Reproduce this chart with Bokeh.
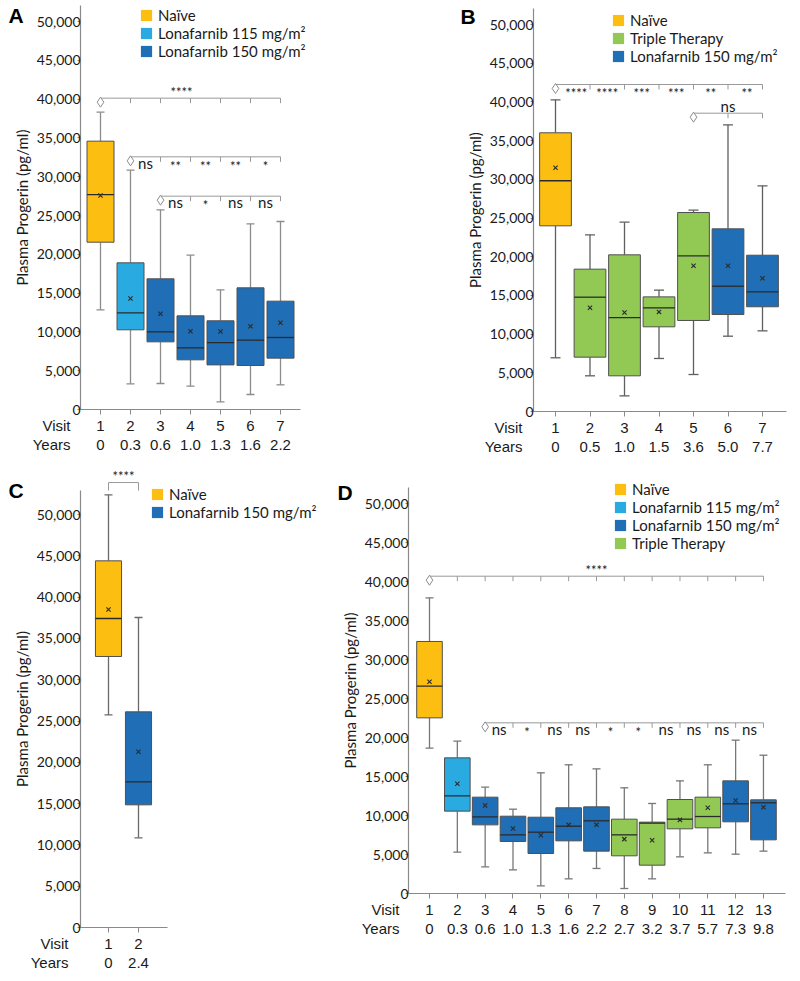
from bokeh.plotting import figure
from bokeh.models import (ColumnDataSource, CDSView, GroupFilter, FixedTicker, NumeralTickFormatter,
                          LinearAxis, Label, Legend, LegendItem, Range1d)
from bokeh.layouts import column, row
from bokeh.embed import file_html
from bokeh.resources import INLINE
from bokeh.core.properties import value

NAIVE = "Naïve"
L115 = "Lonafarnib 115 mg/m²"
L150 = "Lonafarnib 150 mg/m²"
TRIPLE = "Triple Therapy"
COLORS = {NAIVE: "#FDBE12", L115: "#29ABE2", L150: "#1F6EB6", TRIPLE: "#92C954"}

Y_TICKS = [0, 5000, 10000, 15000, 20000, 25000, 30000, 35000, 40000, 45000, 50000]

# ---------------- Panel A ----------------
A_visits = [1, 2, 3, 4, 5, 6, 7]
A_years = ["0", "0.3", "0.6", "1.0", "1.3", "1.6", "2.2"]
A_groups = [NAIVE, L115, L150, L150, L150, L150, L150]
A_whisker_low = [12850, 3310, 3350, 3010, 990, 1930, 3180]
A_q1 = [21560, 10270, 8720, 6400, 5750, 5670, 6620]
A_median = [27700, 12460, 10010, 7950, 8630, 8930, 9280]
A_q3 = [34580, 18900, 16840, 12070, 11430, 15680, 13960]
A_whisker_high = [38310, 30840, 25730, 19890, 15420, 23930, 24230]
A_mean = [27580, 14300, 12330, 10090, 10050, 10740, 11170]
A_bracket_start = [1, 2, 3]
A_bracket_end = [7, 7, 7]
A_bracket_y = [40120, 32560, 27490]
A_sig_text = ["****", "ns", "**", "**", "**", "*", "ns", "*", "ns", "ns"]
A_sig_x = [3.7, 2.5, 3.5, 4.5, 5.5, 6.5, 3.5, 4.5, 5.5, 6.5]
A_sig_bracket = [0, 1, 1, 1, 1, 1, 2, 2, 2, 2]
A_sig_above = [True, False, False, False, False, False, False, False, False, False]
A_legend = [NAIVE, L115, L150]

# ---------------- Panel B ----------------
B_visits = [1, 2, 3, 4, 5, 6, 7]
B_years = ["0", "0.5", "1.0", "1.5", "3.6", "5.0", "7.7"]
B_groups = [NAIVE, TRIPLE, TRIPLE, TRIPLE, TRIPLE, L150, L150]
B_whisker_low = [6940, 4610, 2020, 6850, 4780, 9730, 10420]
B_q1 = [23990, 7020, 4610, 10940, 11760, 12530, 13530]
B_median = [29810, 14770, 12140, 13390, 20110, 16190, 15460]
B_q3 = [36010, 18390, 20240, 14810, 25710, 23600, 20190]
B_whisker_high = [40270, 22830, 24460, 15680, 26010, 37040, 29160]
B_mean = [31480, 13400, 12790, 12870, 18820, 18820, 17220]
B_bracket_start = [1, 5]
B_bracket_end = [7, 7]
B_bracket_y = [42250, 38540]
B_sig_text = ["****", "****", "***", "***", "**", "**", "ns"]
B_sig_x = [1.6, 2.5, 3.5, 4.5, 5.5, 6.55, 6.0]
B_sig_bracket = [0, 0, 0, 0, 0, 0, 1]
B_sig_above = [False, False, False, False, False, False, True]
B_legend = [NAIVE, TRIPLE, L150]

# ---------------- Panel C ----------------
C_visits = [1, 2]
C_years = ["0", "2.4"]
C_groups = [NAIVE, L150]
C_whisker_low = [25740, 10860]
C_q1 = [32810, 14850]
C_median = [37410, 17640]
C_q3 = [44390, 26110]
C_whisker_high = [52380, 37530]
C_mean = [38500, 21270]
C_bracket_start = [1]
C_bracket_end = [2]
C_bracket_y = [53870]
C_sig_text = ["****"]
C_sig_x = [1.5]
C_sig_bracket = [0]
C_sig_above = [True]
C_legend = [NAIVE, L150]

# ---------------- Panel D ----------------
D_visits = [1, 2, 3, 4, 5, 6, 7, 8, 9, 10, 11, 12, 13]
D_years = ["0", "0.3", "0.6", "1.0", "1.3", "1.6", "2.2", "2.7", "3.2", "3.7", "5.7", "7.3", "9.8"]
D_groups = [NAIVE, L115, L150, L150, L150, L150, L150, TRIPLE, TRIPLE, TRIPLE, TRIPLE, L150, L150]
D_whisker_low = [18630, 5300, 3420, 3030, 980, 1880, 3210, 640, 1880, 4700, 5210, 5040, 5430]
D_q1 = [22520, 10560, 8800, 6670, 5130, 6750, 5430, 4830, 3630, 8290, 8420, 9190, 6880]
D_median = [26580, 12520, 9830, 7520, 7860, 8630, 9320, 7520, 9020, 9530, 9870, 11500, 11630]
D_q3 = [32310, 17390, 12350, 9910, 9780, 10990, 11110, 9530, 9150, 12050, 12350, 14440, 12010]
D_whisker_high = [37910, 19530, 13630, 10810, 15470, 16500, 15980, 13550, 11540, 14440, 16500, 19660, 17730]
D_mean = [27140, 14060, 11280, 8330, 7480, 8800, 8800, 6970, 6840, 9440, 10990, 11920, 11070]
D_bracket_start = [1, 3]
D_bracket_end = [13, 13]
D_bracket_y = [40680, 21880]
D_sig_text = ["****", "ns", "*", "ns", "ns", "*", "*", "ns", "ns", "ns", "ns"]
D_sig_x = [7.0, 3.5, 4.5, 5.5, 6.5, 7.5, 8.5, 9.5, 10.5, 11.5, 12.5]
D_sig_bracket = [0, 1, 1, 1, 1, 1, 1, 1, 1, 1, 1]
D_sig_above = [True, False, False, False, False, False, False, False, False, False, False]
D_legend = [NAIVE, L115, L150, TRIPLE]

# ---------------- styles / geometry (pixels inside each figure) ----------------
AXIS_COLOR = "#8a8a8a"
BOX_LINE = "#505050"
MEDIAN_COLOR = "#2b2b2b"
BRACKET_COLOR = "#999999"
TEXT_COLOR = "#1a1a1a"
TICK_FONT = "Lato"
X_FONT = "Liberation Sans"
ROW1_VISIT_OFF, ROW2_YEARS_OFF = 11, 30   # px below the x axis to top of label rows
CAPTION_SHIFT = 4                          # row captions lifted to line up with tick labels
SIG_OFFSETS = {("above", True): -6.5, ("above", False): -7, ("below", True): 9, ("below", False): 6}

# v1: x pixel of visit 1, zero: y pixel (from top) of value 0, ax: x pixel of the y axis,
# xend: x pixel where x axis ends, ytop: y pixel where y axis ends
GEO = {
    "A": dict(w=400, h=460, ppx=30.0, ppy=7.76, v1=100, zero=409, ax=80, xend=300, ytop=5,
              box_w=0.9, cap_px=4, letter=(8, 15), capx=70, legend=(139, 8), drop_both=False,
              whisker="#8c8c8c"),
    "B": dict(w=392, h=460, ppx=34.5, ppy=7.74, v1=155, zero=411, ax=133, xend=386, ytop=8,
              box_w=0.92, cap_px=5, letter=(60, 16), capx=122, legend=(211, 13), drop_both=False,
              whisker="#5f5f5f"),
    "C": dict(w=318, h=513, ppx=30.0, ppy=8.26, v1=108, zero=467, ax=80, xend=167, ytop=30,
              box_w=0.87, cap_px=4, letter=(8, 30), capx=68, legend=(150, 26), drop_both=True,
              whisker="#6a6a6a"),
    "D": dict(w=474, h=513, ppx=27.83, ppy=7.8, v1=111, zero=433, ax=90, xend=467, ytop=27,
              box_w=0.92, cap_px=4, letter=(19, 32), capx=81, legend=(295, 23), drop_both=False,
              whisker="#777777"),
}
LEG_ROW = 18
LEG_SPACING = -1


def build(letter, visits, years, groups, wlo, q1, med, q3, whi, mean,
          b_start, b_end, b_y, s_text, s_x, s_br, s_above, legend_groups):
    g = GEO[letter]
    ppx, ppy = g["ppx"], g["ppy"]
    x0 = 1 - g["v1"] / ppx
    x1 = x0 + g["w"] / ppx
    y1 = g["zero"] / ppy * 1000.0
    y0 = -(g["h"] - g["zero"]) / ppy * 1000.0
    yaxis_x = 1 + (g["ax"] - g["v1"]) / ppx
    xaxis_end = 1 + (g["xend"] - g["v1"]) / ppx
    yaxis_top = (g["zero"] - g["ytop"]) / ppy * 1000.0
    dx = 1.0 / ppx
    dy = 1000.0 / ppy
    wc = g["whisker"]

    p = figure(width=g["w"], height=g["h"], x_range=Range1d(x0, x1), y_range=Range1d(y0, y1),
               output_backend="svg", toolbar_location=None,
               x_axis_location=None, y_axis_location=None,
               min_border_left=0, min_border_right=0, min_border_top=0, min_border_bottom=0)
    p.outline_line_color = None
    p.xgrid.grid_line_color = None
    p.ygrid.grid_line_color = None

    # y axis, drawn at a fixed location
    ya = LinearAxis(ticker=FixedTicker(ticks=Y_TICKS), formatter=NumeralTickFormatter(format="0,0"),
                    axis_label="Plasma Progerin (pg/ml)", fixed_location=yaxis_x,
                    bounds=(0, yaxis_top))
    ya.axis_line_color = AXIS_COLOR
    ya.axis_line_width = 1.2
    ya.major_tick_line_color = AXIS_COLOR
    ya.major_tick_out = 3
    ya.major_tick_in = 0
    ya.minor_tick_out = 0
    ya.minor_tick_line_color = None
    ya.major_label_text_font = TICK_FONT
    ya.major_label_text_font_size = "14px"
    ya.major_label_text_color = TEXT_COLOR
    ya.major_label_standoff = -3
    ya.axis_label_text_font = TICK_FONT
    ya.axis_label_text_font_style = "normal"
    ya.axis_label_text_font_size = "15px"
    ya.axis_label_text_color = TEXT_COLOR
    ya.axis_label_standoff = 3
    p.add_layout(ya, "left")

    # x axes: visits and years
    xa = LinearAxis(ticker=FixedTicker(ticks=visits), fixed_location=0,
                    major_label_overrides={v: str(v) for v in visits}, bounds=(yaxis_x, xaxis_end))
    xa.axis_line_color = AXIS_COLOR
    xa.axis_line_width = 1.2
    xa.major_tick_line_color = AXIS_COLOR
    xa.major_tick_out = 5
    xa.major_tick_in = 0
    xa.minor_tick_out = 0
    xa.minor_tick_line_color = None
    xa.major_label_text_font = X_FONT
    xa.major_label_text_font_size = "15px"
    xa.major_label_text_color = TEXT_COLOR
    xa.major_label_standoff = ROW1_VISIT_OFF - 5
    p.add_layout(xa, "below")

    xy = LinearAxis(ticker=FixedTicker(ticks=visits), fixed_location=0,
                    major_label_overrides=dict(zip(visits, years)), bounds=(yaxis_x, xaxis_end))
    xy.axis_line_color = None
    xy.major_tick_line_color = None
    xy.major_tick_out = 0
    xy.major_tick_in = 0
    xy.minor_tick_out = 0
    xy.minor_tick_line_color = None
    xy.major_label_text_font = X_FONT
    xy.major_label_text_font_size = "15px"
    xy.major_label_text_color = TEXT_COLOR
    xy.major_label_standoff = ROW2_YEARS_OFF
    p.add_layout(xy, "below")

    # box plots
    half = g["box_w"] / 2.0
    cap = g["cap_px"] * dx
    src = ColumnDataSource(dict(
        x=visits, group=groups, lo=wlo, q1=q1, med=med, q3=q3, hi=whi, mean=mean,
        bl=[v - half for v in visits], br=[v + half for v in visits],
        cl=[v - cap for v in visits], cr=[v + cap for v in visits]))
    p.segment(x0="x", y0="lo", x1="x", y1="q1", source=src, line_color=wc, line_width=1.3)
    p.segment(x0="x", y0="q3", x1="x", y1="hi", source=src, line_color=wc, line_width=1.3)
    p.segment(x0="cl", y0="lo", x1="cr", y1="lo", source=src, line_color=wc, line_width=1.3)
    p.segment(x0="cl", y0="hi", x1="cr", y1="hi", source=src, line_color=wc, line_width=1.3)
    for grp in dict.fromkeys(groups):
        p.vbar(x="x", width=g["box_w"], bottom="q1", top="q3", source=src,
               view=CDSView(filter=GroupFilter(column_name="group", group=grp)),
               fill_color=COLORS[grp], line_color=BOX_LINE, line_width=1)
    p.segment(x0="bl", y0="med", x1="br", y1="med", source=src, line_color=MEDIAN_COLOR, line_width=1.3)
    p.scatter(x="x", y="mean", source=src, marker="x", size=6, line_color=MEDIAN_COLOR, line_width=1.1)

    # significance brackets
    tick = 5 * dy
    bsrc = ColumnDataSource(dict(x0=b_start, x1=b_end, y=b_y))
    p.segment(x0="x0", y0="y", x1="x1", y1="y", source=bsrc, line_color=BRACKET_COLOR, line_width=1)
    tx, ty0, ty1 = [], [], []
    for s, e, yy in zip(b_start, b_end, b_y):
        for v in range(s + 1, e + 1):
            tx.append(v); ty0.append(yy); ty1.append(yy - (8 * dy if g["drop_both"] else tick))
        if g["drop_both"]:
            tx.append(s); ty0.append(yy); ty1.append(yy - 8 * dy)
    p.segment(x0=tx, y0=ty0, x1=tx, y1=ty1, line_color=BRACKET_COLOR, line_width=1)
    if not g["drop_both"]:
        p.scatter(x=b_start, y=[yy - 4 * dy for yy in b_y], marker="diamond", size=10,
                  fill_color="white", line_color="#8c8c8c", line_width=1)

    stx, sty, sto, sts = [], [], [], []
    for t, xx, br, ab in zip(s_text, s_x, s_br, s_above):
        star = t.startswith("*")
        stx.append(xx)
        sty.append(b_y[br])
        sto.append(SIG_OFFSETS[("above" if ab else "below", star)])
        sts.append("13px" if star else "15px")
    ssrc = ColumnDataSource(dict(x=stx, y=sty, text=list(s_text), off=sto, size=sts))
    p.text(x="x", y="y", text="text", source=ssrc, y_offset="off", text_font_size="size",
           text_font=value(TICK_FONT), text_align="center", text_baseline="alphabetic",
           text_color=TEXT_COLOR)

    # legend: one swatch renderer per group (no visible data)
    items = []
    for grp in legend_groups:
        r = p.vbar(x=[float("nan")], width=1, bottom=[float("nan")], top=[float("nan")],
                   fill_color=COLORS[grp], line_color=None)
        items.append(LegendItem(label=grp, renderers=[r]))
    n = len(items)
    leg_h = n * LEG_ROW + (n - 1) * LEG_SPACING
    lx, ltop = g["legend"]
    leg = Legend(items=items, location=(lx, g["h"] - ltop - leg_h), orientation="vertical",
                 glyph_width=14, glyph_height=14, label_height=17, spacing=LEG_SPACING,
                 padding=0, margin=0, label_standoff=5, border_line_color=None,
                 background_fill_alpha=0, label_text_font=TICK_FONT, label_text_font_size="15px",
                 label_text_color=TEXT_COLOR)
    p.add_layout(leg)

    # panel letter and row captions
    lx, ly = g["letter"]
    p.add_layout(Label(x=lx, y=g["h"] - ly, x_units="screen", y_units="screen", text=letter,
                       text_font=X_FONT, text_font_style="bold", text_font_size="21px",
                       text_baseline="middle", text_color="black"))
    axis_from_bottom = g["h"] - g["zero"]
    p.add_layout(Label(x=g["capx"], y=axis_from_bottom - ROW1_VISIT_OFF + CAPTION_SHIFT,
                       x_units="screen", y_units="screen", text="Visit", text_font=X_FONT,
                       text_font_size="15px", text_align="right", text_baseline="top",
                       text_color=TEXT_COLOR))
    p.add_layout(Label(x=g["capx"], y=axis_from_bottom - ROW2_YEARS_OFF + CAPTION_SHIFT,
                       x_units="screen", y_units="screen", text="Years", text_font=X_FONT,
                       text_font_size="15px", text_align="right", text_baseline="top",
                       text_color=TEXT_COLOR))
    return p


pA = build("A", A_visits, A_years, A_groups, A_whisker_low, A_q1, A_median, A_q3, A_whisker_high, A_mean,
           A_bracket_start, A_bracket_end, A_bracket_y, A_sig_text, A_sig_x, A_sig_bracket, A_sig_above, A_legend)
pB = build("B", B_visits, B_years, B_groups, B_whisker_low, B_q1, B_median, B_q3, B_whisker_high, B_mean,
           B_bracket_start, B_bracket_end, B_bracket_y, B_sig_text, B_sig_x, B_sig_bracket, B_sig_above, B_legend)
pC = build("C", C_visits, C_years, C_groups, C_whisker_low, C_q1, C_median, C_q3, C_whisker_high, C_mean,
           C_bracket_start, C_bracket_end, C_bracket_y, C_sig_text, C_sig_x, C_sig_bracket, C_sig_above, C_legend)
pD = build("D", D_visits, D_years, D_groups, D_whisker_low, D_q1, D_median, D_q3, D_whisker_high, D_mean,
           D_bracket_start, D_bracket_end, D_bracket_y, D_sig_text, D_sig_x, D_sig_bracket, D_sig_above, D_legend)

layout = column(row(pA, pB), row(pC, pD))
open("out.html", "w").write(file_html(layout, INLINE))
